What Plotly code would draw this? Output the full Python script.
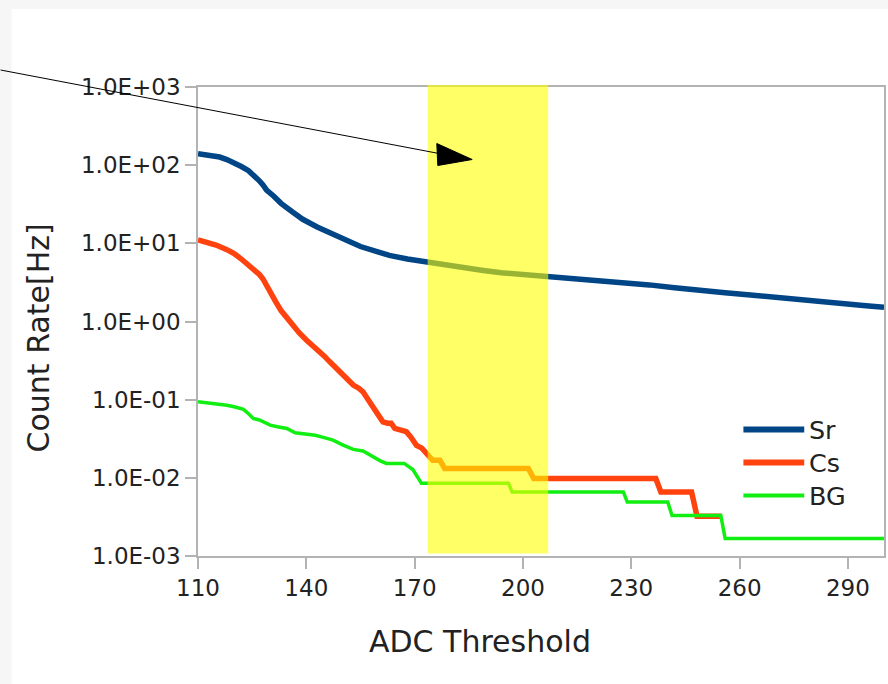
import plotly.graph_objects as go

# ---------------- data ----------------
sr_adc = [110, 112, 114, 116, 118, 120, 122, 124, 126, 127, 128, 129, 131, 133, 136, 139, 143, 147, 151,
          155, 159, 163, 168, 174, 179, 184, 189, 194, 200, 207, 214, 221, 228, 235, 242, 249, 256, 263,
          270, 276, 283, 290, 295, 300]
sr_rate = [140, 137, 133, 127, 118, 108, 96, 85, 72, 63, 56, 48, 40, 32.5, 25.5, 20.3, 16.2, 13.1, 11.0,
           9.1, 7.9, 7.0, 6.3, 5.66, 5.2, 4.8, 4.5, 4.2, 4.0, 3.75, 3.55, 3.33, 3.14, 2.94, 2.7, 2.48, 2.33,
           2.19, 2.03, 1.89, 1.76, 1.66, 1.59, 1.52]

cs_adc = [110, 113, 115, 118, 120, 122, 124, 126, 127, 128, 130, 131.5, 133, 135, 136.5, 138, 140,
          142, 143.5, 145, 146.5, 148, 150, 151.5, 153, 154.5, 155.7, 157, 158.5, 160, 161.2, 162.5,
          163.5, 164.5, 166, 167.7, 169, 170.5, 172, 173.7, 175, 177, 178.3, 201.5, 203, 236.8, 238.2,
          246.7, 248.2, 255]
cs_rate = [11.1, 10.3, 9.5, 8.3, 7.4, 6.3, 5.3, 4.4, 4.0, 3.5, 2.3, 1.8, 1.38, 1.05, 0.86, 0.72, 0.58,
           0.48, 0.43, 0.36, 0.305, 0.26, 0.215, 0.18, 0.154, 0.14, 0.126, 0.102, 0.081, 0.066, 0.052,
           0.05, 0.05, 0.043, 0.041, 0.039, 0.033, 0.026, 0.024, 0.0195, 0.0168, 0.0168, 0.0132, 0.0132,
           0.0098, 0.0098, 0.0066, 0.0066, 0.00323, 0.00323]

bg_adc = [110, 113, 116, 118, 120, 122.6, 124, 125.3, 127, 128.1, 130, 132, 134.6, 136.9, 140.1, 142.5,
          144.7, 147.4, 150.2, 153, 155.7, 158.5, 160.5, 162.2, 167.1, 169.5, 171.9, 196, 197, 227.8,
          228.9, 240.1, 241.3, 254.8, 256, 300]
bg_rate = [0.094, 0.091, 0.0877, 0.085, 0.081, 0.075, 0.066, 0.0575, 0.055, 0.052, 0.0472, 0.045,
           0.0428, 0.0377, 0.0362, 0.035, 0.0329, 0.0304, 0.0262, 0.0231, 0.0221, 0.0185, 0.0165,
           0.0153, 0.0153, 0.0128, 0.0085, 0.0085, 0.0066, 0.0066, 0.0049, 0.0049, 0.0033, 0.0033,
           0.00167, 0.00167]

series_names = ["Sr", "Cs", "BG"]
series_colors = ["#004586", "#ff420e", "#11ee11"]
series_widths = [5.5, 5.5, 3.5]

y_tickvals = [1e-3, 1e-2, 1e-1, 1e0, 1e1, 1e2, 1e3]
y_ticktext = ["1.0E-03", "1.0E-02", "1.0E-01", "1.0E+00", "1.0E+01", "1.0E+02", "1.0E+03"]
x_tickvals = [110, 140, 170, 200, 230, 260, 290]

highlight_x = (173.6, 207.0)

FONT = "DejaVu Sans"
TXT = "#222222"

# ---------------- layout geometry (pixels) ----------------
W, H = 888, 684
ML, MR, MT, MB = 198, 2, 87, 128
PW, PH = W - ML - MR, H - MT - MB


def px(x):
    return (x - ML) / PW


def py(y):
    return (H - MB - y) / PH


fig = go.Figure()
for name, xs, ys, col, w in zip(series_names, [sr_adc, cs_adc, bg_adc], [sr_rate, cs_rate, bg_rate],
                                series_colors, series_widths):
    fig.add_trace(go.Scatter(x=xs, y=ys, mode="lines", name=name,
                             line=dict(color=col, width=w, shape="linear"), showlegend=False))

shapes = []
# white panel over light gray page
shapes.append(dict(type="rect", xref="paper", yref="paper", x0=px(11), x1=px(W + 5), y0=py(9), y1=py(H + 5),
                   fillcolor="white", line=dict(width=0), layer="below"))
# yellow highlight band
shapes.append(dict(type="rect", xref="x", yref="paper", x0=highlight_x[0], x1=highlight_x[1],
                   y0=py(553.5), y1=py(85), fillcolor="rgba(255,255,0,0.6)", line=dict(width=0), layer="above"))
# arrow line
shapes.append(dict(type="line", xref="paper", yref="paper", x0=px(0), y0=py(70), x1=px(445), y1=py(154.5),
                   line=dict(color="black", width=1)))
# arrow head
tip = (473, 159.5)
b1 = (437.5, 143.5)
b2 = (438.5, 165.5)
shapes.append(dict(type="path", xref="paper", yref="paper",
                   path=f"M{px(tip[0])},{py(tip[1])} L{px(b1[0])},{py(b1[1])} L{px(b2[0])},{py(b2[1])} Z",
                   fillcolor="black", line=dict(color="black", width=1)))

annotations = []
# custom legend: line samples + one multi-line label block
leg_y = [429.5, 462.5, 495.5]
leg_w = [6, 6, 4]
for col, yy, lw in zip(series_colors, leg_y, leg_w):
    shapes.append(dict(type="line", xref="paper", yref="paper", x0=px(745), x1=px(806), y0=py(yy), y1=py(yy),
                       line=dict(color=col, width=lw)))
annotations.append(dict(text="<br>".join(series_names), xref="paper", yref="paper", x=px(810), y=py(leg_y[1]),
                        xanchor="left", yanchor="middle", align="left", showarrow=False, borderpad=0,
                        font=dict(family=FONT, size=25.4, color=TXT)))

# axis titles
annotations.append(dict(text="ADC Threshold", xref="paper", yref="paper", x=px(481), y=py(641),
                        xanchor="center", yanchor="middle", showarrow=False,
                        font=dict(family=FONT, size=30, color=TXT)))
annotations.append(dict(text="Count Rate[Hz]", xref="paper", yref="paper", x=px(38), y=py(338),
                        xanchor="center", yanchor="middle", showarrow=False, textangle=-90,
                        font=dict(family=FONT, size=30, color=TXT)))

axis_common = dict(showgrid=False, zeroline=False, showline=True, linecolor="#b3b3b3", linewidth=1.5,
                   mirror=True, ticks="outside", ticklen=11, tickcolor="#b3b3b3", tickwidth=1.5,
                   tickfont=dict(family=FONT, size=23, color=TXT))

fig.update_layout(
    width=W, height=H,
    margin=dict(l=ML, r=MR, t=MT, b=MB, pad=0),
    paper_bgcolor="#f6f6f6", plot_bgcolor="white",
    xaxis=dict(range=[110, 300], tickvals=x_tickvals, **axis_common),
    yaxis=dict(type="log", range=[-3, 3], tickvals=y_tickvals, ticktext=y_ticktext, **axis_common),
    shapes=shapes, annotations=annotations, showlegend=False,
)

fig.write_html("out.html")
